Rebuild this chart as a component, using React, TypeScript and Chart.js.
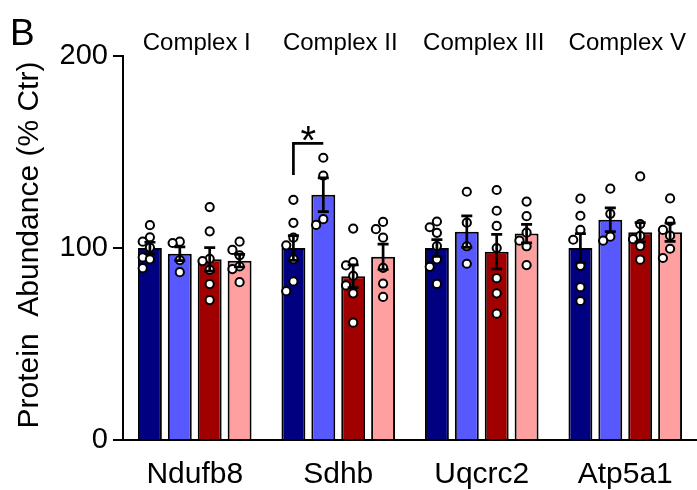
import React, { useEffect, useRef } from "react";
import { Chart, registerables } from "chart.js";

Chart.register(...registerables);

const categories = ["Ndufb8", "Sdhb", "Uqcrc2", "Atp5a1"];
const complexLabels = ["Complex I", "Complex II", "Complex III", "Complex V"];
const yTicks = [0, 100, 200];

const seriesColors = ["#000080", "#5858FF", "#A00000", "#FFA0A0"];

const meansS1 = [100, 100, 100, 100];
const meansS2 = [97, 127.7, 108.5, 114.7];
const meansS3 = [94.1, 85.3, 98.1, 108.2];
const meansS4 = [93.4, 95.4, 107.5, 108.2];

const semS1 = [3, 6.4, 4.4, 7.5];
const semS2 = [3.6, 8.8, 8.2, 6.2];
const semS3 = [6.1, 5.9, 9, 5];
const semS4 = [3.3, 6.6, 4.8, 4.8];

const pointsS1 = [
  [111.9, 105.6, 103.3, 100.2, 95.1, 94.1, 89.5],
  [125.1, 113.1, 105.4, 101.4, 94.2, 82.6, 77.5],
  [113.8, 110.8, 107.9, 101, 94.1, 90.2, 81.3],
  [125.7, 116.8, 109.4, 104.3, 90.7, 79.6, 72.4],
];
const pointsS2 = [
  [103.3, 102.6, 93.7, 87.4],
  [147, 137.7, 115, 112],
  [129.3, 113.2, 100.9, 91.8],
  [130.9, 117.8, 105.9, 103.8],
];
const pointsS3 = [
  [121.3, 108.7, 94.4, 93.2, 88.6, 81.2, 72.9],
  [110.1, 92.7, 90.9, 85.5, 80.5, 76.4, 61.1],
  [130.2, 119.4, 111.5, 100, 84.3, 76.4, 65.8],
  [137.3, 112.4, 106.3, 104.6, 101, 93.9],
];
const pointsS4 = [
  [103.3, 99, 96.2, 90.4, 89, 82.2],
  [113.6, 109.8, 105.4, 89.7, 81.5, 74.5],
  [124.2, 116.6, 108, 103.8, 100.9, 91.1],
  [125.8, 114, 109.4, 106.4, 99.6, 94.8],
];

// significance: category index, two series indices, bracket bottom and top values
const sigCategory = 1;
const sigSeries = [0, 1];
const sigBracketValues = [138, 154.5];
const sigLabel = "*";

const allMeans = [meansS1, meansS2, meansS3, meansS4];
const allSem = [semS1, semS2, semS3, semS4];
const allPoints = [pointsS1, pointsS2, pointsS3, pointsS4];

const FONT = "'Liberation Sans', Arial, Helvetica, sans-serif";

const overlayPlugin = {
  id: "overlay",
  afterDatasetsDraw(chart: any) {
    const ctx = chart.ctx;
    const y = chart.scales.y;
    const r = 4.1;
    ctx.save();
    // points (simple swarm: centre column first, then left/right)
    allPoints.forEach((series, si) => {
      const meta = chart.getDatasetMeta(si);
      series.forEach((vals, ci) => {
        const bar = meta.data[ci];
        const step = bar.width * 0.3;
        const placed: { c: number; y: number }[] = [];
        vals.forEach((v) => {
          const py = y.getPixelForValue(v);
          const cands = [0, -1, 1];
          let best = 0;
          let bestGap = -1;
          for (const c of cands) {
            const same = placed.filter((p) => p.c === c);
            const gap = same.length ? Math.min(...same.map((p) => Math.abs(p.y - py))) : 999;
            if (gap >= 10) {
              best = c;
              bestGap = 999;
              break;
            }
            if (gap > bestGap) {
              bestGap = gap;
              best = c;
            }
          }
          placed.push({ c: best, y: py });
          const px = bar.x + best * step;
          ctx.beginPath();
          ctx.arc(px, py, r, 0, Math.PI * 2);
          ctx.fillStyle = "#fff";
          ctx.fill();
          ctx.lineWidth = 2;
          ctx.strokeStyle = "#000";
          ctx.stroke();
        });
      });
    });
    // error bars
    ctx.strokeStyle = "#000";
    ctx.lineWidth = 2.7;
    allMeans.forEach((means, si) => {
      const meta = chart.getDatasetMeta(si);
      means.forEach((m, ci) => {
        const bar = meta.data[ci];
        const s = allSem[si][ci];
        const top = y.getPixelForValue(m + s);
        const bot = y.getPixelForValue(m - s);
        const hw = 5.5;
        ctx.beginPath();
        ctx.moveTo(bar.x, top);
        ctx.lineTo(bar.x, bot);
        ctx.moveTo(bar.x - hw, top);
        ctx.lineTo(bar.x + hw, top);
        ctx.moveTo(bar.x - hw, bot);
        ctx.lineTo(bar.x + hw, bot);
        ctx.stroke();
      });
    });
    // significance bracket
    const b1 = chart.getDatasetMeta(sigSeries[0]).data[sigCategory];
    const b2 = chart.getDatasetMeta(sigSeries[1]).data[sigCategory];
    const yb = y.getPixelForValue(sigBracketValues[0]);
    const yt = y.getPixelForValue(sigBracketValues[1]);
    ctx.lineWidth = 2.7;
    ctx.beginPath();
    ctx.moveTo(b1.x, yb);
    ctx.lineTo(b1.x, yt);
    ctx.lineTo(b2.x, yt);
    ctx.stroke();
    ctx.fillStyle = "#000";
    ctx.font = `40px ${FONT}`;
    ctx.textAlign = "center";
    ctx.textBaseline = "alphabetic";
    ctx.fillText(sigLabel, (b1.x + b2.x) / 2, yt + 11);
    ctx.restore();
  },
  afterDraw(chart: any) {
    const ctx = chart.ctx;
    const x = chart.scales.x;
    const area = chart.chartArea;
    ctx.save();
    ctx.fillStyle = "#000";
    // panel letter
    ctx.font = `37px ${FONT}`;
    ctx.textAlign = "left";
    ctx.textBaseline = "alphabetic";
    ctx.fillText("B", 10, 45);
    // complex labels
    ctx.font = `24px ${FONT}`;
    ctx.textAlign = "center";
    complexLabels.forEach((lab, i) => {
      ctx.fillText(lab, x.getPixelForValue(i) + 2, 49.5);
    });
    // y title
    ctx.font = `30px ${FONT}`;
    ctx.translate(38, (area.top + area.bottom) / 2 - 3);
    ctx.rotate(-Math.PI / 2);
    ctx.textAlign = "center";
    ctx.textBaseline = "alphabetic";
    ctx.fillText("Protein  Abundance (% Ctr)", 0, 0);
    ctx.restore();
  },
};

export default function App() {
  const ref = useRef<HTMLCanvasElement | null>(null);
  useEffect(() => {
    document.body.style.margin = "0";
    if (!ref.current) return;
    const chart = new Chart(ref.current, {
      type: "bar",
      data: {
        labels: categories,
        datasets: allMeans.map((m, i) => ({
          label: `S${i + 1}`,
          data: m,
          backgroundColor: seriesColors[i],
          borderColor: "#000",
          borderWidth: 2,
          categoryPercentage: 0.8333,
          barPercentage: 0.8,
        })),
      },
      options: {
        responsive: false,
        animation: false,
        devicePixelRatio: 1,
        layout: { padding: { top: 56, right: 0, bottom: 0, left: 0 } },
        plugins: { legend: { display: false }, tooltip: { enabled: false }, title: { display: false } },
        scales: {
          x: {
            type: "category",
            grid: { display: false },
            border: { display: true, color: "#000", width: 2 },
            ticks: { color: "#000", font: { family: FONT, size: 30 }, padding: 9, maxRotation: 0 },
            afterFit: (s: any) => {
              s.height = 50;
            },
          },
          y: {
            min: 0,
            max: 200,
            afterBuildTicks: (s: any) => {
              s.ticks = yTicks.map((v) => ({ value: v }));
            },
            grid: { drawOnChartArea: false, drawTicks: true, tickLength: 10, color: "#000", lineWidth: 2 },
            border: { display: true, color: "#000", width: 2 },
            ticks: { color: "#000", font: { family: FONT, size: 29 }, padding: 5 },
            afterFit: (s: any) => {
              s.width = 123;
            },
          },
        },
      },
      plugins: [overlayPlugin],
    });
    return () => chart.destroy();
  }, []);
  return <canvas ref={ref} width={697} height={490} style={{ display: "block", width: 697, height: 490 }} />;
}
